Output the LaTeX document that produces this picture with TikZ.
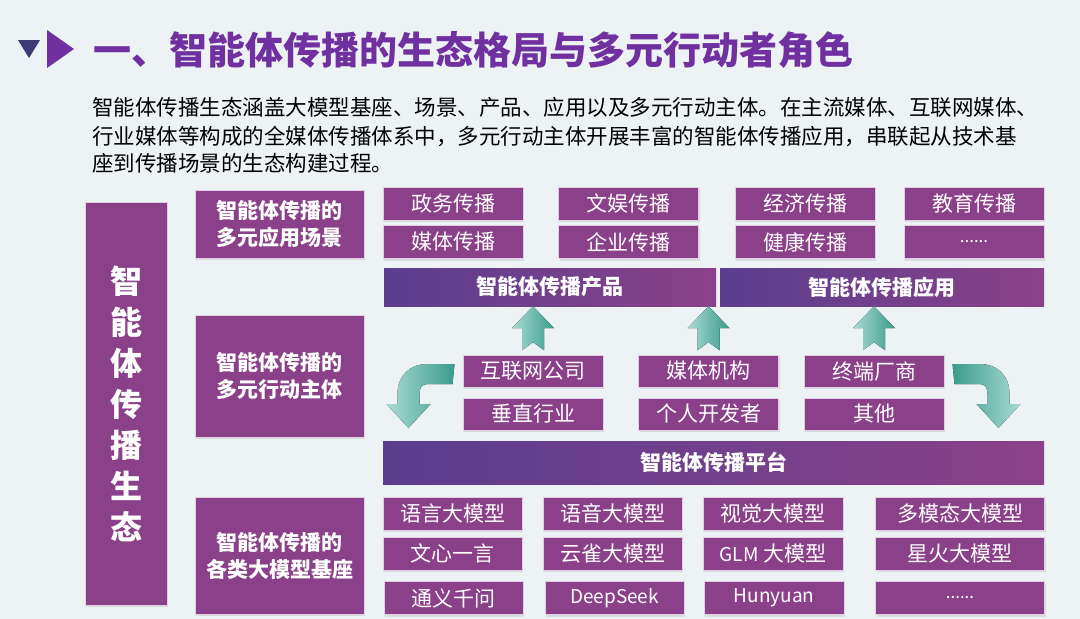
\documentclass[tikz,border=0pt]{standalone}
\usepackage{fontspec}
\setmainfont{Noto Sans CJK SC}
\definecolor{ecobg}{RGB}{237,242,245}
\definecolor{ecopurple}{RGB}{139,65,137}
\definecolor{ecoindigo}{RGB}{90,62,142}
\definecolor{ecoedge}{RGB}{226,206,226}
\definecolor{ecotitle}{RGB}{112,48,160}
\definecolor{ecodark}{RGB}{62,58,120}
\definecolor{ecoteal}{RGB}{58,156,140}
\definecolor{ecotealL}{RGB}{170,218,210}
\usetikzlibrary{calc,shadows}
\newcommand\boxfont{\fontsize{21}{27}\selectfont}
\newcommand\latinfont{\fontsize{19}{24}\selectfont}
\newcommand\dotsfont{\fontsize{17}{20}\selectfont}

\begin{document}
\begin{tikzpicture}[x=1pt,y=-1pt,
  cell/.style={fill=ecopurple,draw=ecoedge,line width=1pt,text=white,inner sep=0pt,
    minimum width=140pt,minimum height=33pt,font=\boxfont,
    drop shadow={opacity=0.18,shadow xshift=1pt,shadow yshift=-2pt}},
  tag/.style={cell,font=\boxfont\bfseries,align=center,minimum width=169pt},
  bar/.style={left color=ecoindigo,right color=ecopurple,draw=none,text=white,inner sep=0pt,
    minimum height=38pt,font=\boxfont\bfseries},
  uparr/.style={left color=ecotealL,right color=ecoteal},
  bendarr/.style={left color=ecotealL,right color=ecoteal}]
  % Background and bounding box
  \fill[ecobg,use as bounding box] (0,0) rectangle (1080,619);
  % Title
  \fill[ecodark] (18,40) -- (40,40) -- (29,58) -- cycle;
  \fill[ecotitle] (47,30) -- (47,68) -- (74,49) -- cycle;
  \node[anchor=west,inner sep=0pt,text=ecotitle,font=\fontsize{38}{44}\selectfont\bfseries] (title) at (93,50)
    {一、智能体传播的生态格局与多元行动者角色};
  % Intro text
  \node[anchor=west,inner sep=0pt,font=\fontsize{21.5}{28}\selectfont] (intro1) at (92,107)
    {智能体传播生态涵盖大模型基座、场景、产品、应用以及多元行动主体。在主流媒体、互联网媒体、};
  \node[anchor=west,inner sep=0pt,font=\fontsize{21.5}{28}\selectfont] (intro2) at (92,136)
    {行业媒体等构成的全媒体传播体系中，多元行动主体开展丰富的智能体传播应用，串联起从技术基};
  \node[anchor=west,inner sep=0pt,font=\fontsize{21.5}{28}\selectfont] (intro3) at (92,163)
    {座到传播场景的生态构建过程。};
  % Left column
  \node[cell,minimum width=82pt,minimum height=403pt,align=center,
    font=\fontsize{32}{41}\selectfont\bfseries] (eco) at (126,403.5)
    {智\\能\\体\\传\\播\\生\\态};
  \node[tag,minimum height=68pt] (cat1) at (279.5,224) {智能体传播的\\多元应用场景};
  \node[tag,minimum height=122pt] (cat2) at (279.5,376) {智能体传播的\\多元行动主体};
  \node[tag,minimum height=117pt] (cat3) at (279.5,555.5) {智能体传播的\\各类大模型基座};
  % Application scenes
  \node[cell] (scene1) at (453,203.5) {政务传播};
  \node[cell] (scene2) at (628.5,203.5) {文娱传播};
  \node[cell] (scene3) at (805,203.5) {经济传播};
  \node[cell] (scene4) at (974,203.5) {教育传播};
  \node[cell] (scene5) at (453,242) {媒体传播};
  \node[cell] (scene6) at (628.5,242) {企业传播};
  \node[cell] (scene7) at (805,242) {健康传播};
  \node[cell,font=\dotsfont] (scene8) at (974,242) {......};
  % Product and application bars
  \node[bar,minimum width=332pt] (prod) at (550,287) {智能体传播产品};
  \node[bar,minimum width=324pt] (appl) at (882,287) {智能体传播应用};
  % Actors
  \node[cell,minimum height=32pt] (actor1) at (533,371) {互联网公司};
  \node[cell,minimum height=32pt] (actor2) at (708.5,371) {媒体机构};
  \node[cell,minimum height=32pt] (actor3) at (874,371) {终端厂商};
  \node[cell,minimum height=32pt] (actor4) at (533,414) {垂直行业};
  \node[cell,minimum height=32pt] (actor5) at (708.5,414) {个人开发者};
  \node[cell,minimum height=32pt] (actor6) at (874,414) {其他};
  % Platform bar
  \node[bar,minimum width=661pt,minimum height=43pt] (plat) at (713.5,462.5) {智能体传播平台};
  % Model bases
  \node[cell,minimum width=139pt] (model1) at (452.5,513.5) {语言大模型};
  \node[cell,minimum width=139pt] (model2) at (612.5,513.5) {语音大模型};
  \node[cell] (model3) at (773,513.5) {视觉大模型};
  \node[cell,minimum width=169pt] (model4) at (960,513.5) {多模态大模型};
  \node[cell,minimum width=139pt] (model5) at (452.5,553.5) {文心一言};
  \node[cell,minimum width=139pt] (model6) at (612.5,553.5) {云雀大模型};
  \node[cell] (model7) at (773,553.5) {{\latinfont GLM} 大模型};
  \node[cell,minimum width=169pt] (model8) at (960,553.5) {星火大模型};
  \node[cell,minimum width=139pt] (model9) at (453.5,598) {通义千问};
  \node[cell,minimum width=139pt,font=\latinfont] (model10) at (614.5,598) {DeepSeek};
  \node[cell,font=\latinfont] (model11) at (774,598) {Hunyuan};
  \node[cell,minimum width=169pt,font=\dotsfont] (model12) at (960,598) {......};
  % Up arrows from actors to bars
  \fill[uparr] (actor1.north |- prod.south) -- ++(21,22) -- ++(-10,0) -- ++(0,22) -- ++(-11,-8)
    -- ++(-11,8) -- ++(0,-22) -- ++(-10,0) -- cycle;
  \fill[uparr] (actor2.north |- prod.south) -- ++(21,22) -- ++(-10,0) -- ++(0,22) -- ++(-11,-8)
    -- ++(-11,8) -- ++(0,-22) -- ++(-10,0) -- cycle;
  \fill[uparr] (actor3.north |- appl.south) -- ++(21,22) -- ++(-10,0) -- ++(0,22) -- ++(-11,-8)
    -- ++(-11,8) -- ++(0,-22) -- ++(-10,0) -- cycle;
  % Bent arrows down to the platform
  \fill[bendarr] ($(actor1.west)+(-8,-7)$) -- ++(-27,0) .. controls +(-18,0) and +(0,-18) .. ++(-30,30)
    -- ++(0,10) -- ++(-11,0) -- ++(22,24) -- ++(22,-24) -- ++(-11,0) -- ++(0,-10)
    .. controls +(0,-6) and +(-6,0) .. ++(8,-10) -- ++(25,0) -- cycle;
  \fill[bendarr,left color=ecoteal,right color=ecotealL] ($(actor3.east)+(8,-7)$) -- ++(27,0)
    .. controls +(18,0) and +(0,-18) .. ++(30,30)
    -- ++(0,10) -- ++(11,0) -- ++(-22,24) -- ++(-22,-24) -- ++(11,0) -- ++(0,-10)
    .. controls +(0,-6) and +(6,0) .. ++(-8,-10) -- ++(-25,0) -- cycle;
\end{tikzpicture}
\end{document}
